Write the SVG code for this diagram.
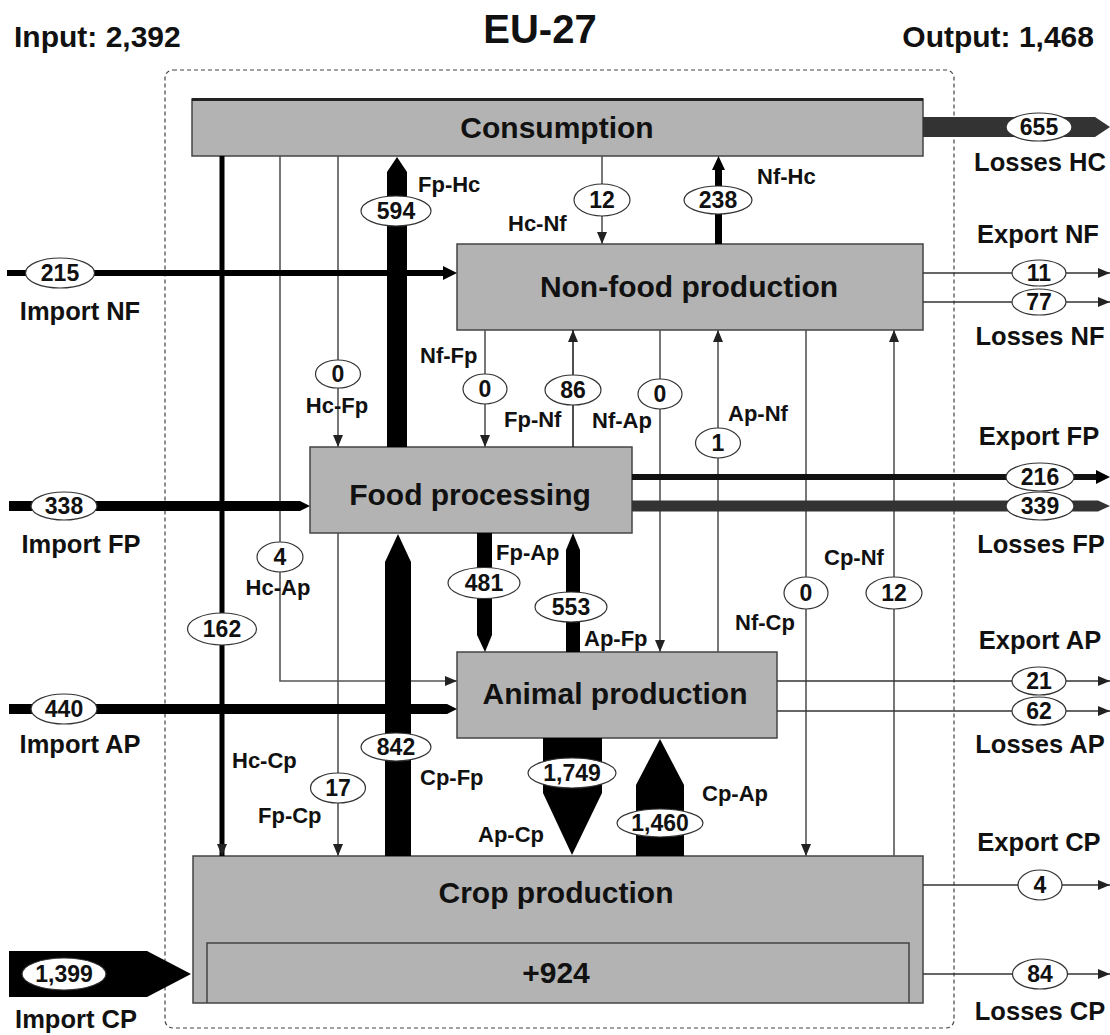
<svg xmlns="http://www.w3.org/2000/svg" width="1110" height="1035" viewBox="0 0 1110 1035">
<defs>
<marker id="ah" markerUnits="userSpaceOnUse" markerWidth="12" markerHeight="12" viewBox="0 0 12 12" refX="12" refY="6" orient="auto">
<path d="M0,1 L12,6 L0,11 Z" fill="#222"/>
</marker>
</defs>
<style>
.box{fill:#b3b3b3;stroke:#444;stroke-width:1.5}
.t{font-family:"Liberation Sans",Arial,sans-serif;font-weight:bold;fill:#111}
.big{font-size:30px;text-anchor:middle}
.side{font-size:25.5px;text-anchor:middle}
.cl{font-size:22px}
.mid{text-anchor:middle}
.num{font-size:23px;text-anchor:middle}
.ell{fill:#fff;stroke:#333;stroke-width:1.2}
.thin{stroke:#555;stroke-width:1.6;fill:none}
.blk{fill:#000}
.dg{fill:#333}
</style>
<rect width="1110" height="1035" fill="#fff"/>

<g id="titles">
<text class="t" x="14" y="47" font-size="30">Input: 2,392</text>
<text class="t" x="540" y="43" font-size="40" text-anchor="middle">EU-27</text>
<text class="t" x="1094" y="47" font-size="30" text-anchor="end">Output: 1,468</text>
</g>

<g id="boundary">
<rect x="165" y="70" width="789" height="958" rx="8" fill="none" stroke="#444" stroke-width="1.2" stroke-dasharray="4 3"/>
</g>

<g id="node-consumption">
<rect class="box" x="192" y="99" width="731" height="57"/>
<line x1="192" y1="99.5" x2="923" y2="99.5" stroke="#222" stroke-width="3"/>
<text class="t big" x="557" y="138">Consumption</text>
</g>
<g id="node-nonfood">
<rect class="box" x="457" y="244" width="466" height="86"/>
<text class="t big" x="689" y="297">Non-food production</text>
</g>
<g id="node-food">
<rect class="box" x="310" y="447" width="322" height="86"/>
<text class="t big" x="470" y="505">Food processing</text>
</g>
<g id="node-animal">
<rect class="box" x="457" y="652" width="320" height="86"/>
<text class="t big" x="615" y="704">Animal production</text>
</g>
<g id="node-crop">
<rect class="box" x="193" y="856" width="730" height="147"/>
<path d="M207,1003 V943 H909 V1003" fill="none" stroke="#444" stroke-width="1.5"/>
<text class="t big" x="556" y="903">Crop production</text>
<text class="t big" x="556" y="983">+924</text>
</g>

<g id="connectors">
<line x1="222" y1="156" x2="222" y2="856" stroke="#000" stroke-width="5" marker-end="url(#ah)"/>
<polyline class="thin" points="280,156 280,681 457,681" marker-end="url(#ah)"/>
<line class="thin" x1="338" y1="156" x2="338" y2="447" marker-end="url(#ah)"/>
<line class="thin" x1="338" y1="533" x2="338" y2="856" marker-end="url(#ah)"/>
<line class="thin" x1="602" y1="156" x2="602" y2="244" marker-end="url(#ah)"/>
<line class="thin" x1="485" y1="330" x2="485" y2="447" marker-end="url(#ah)"/>
<line class="thin" x1="573" y1="447" x2="573" y2="330" style="stroke:#222" marker-end="url(#ah)"/>
<line class="thin" x1="660" y1="330" x2="660" y2="652" marker-end="url(#ah)"/>
<line class="thin" x1="718" y1="652" x2="718" y2="330" marker-end="url(#ah)"/>
<line class="thin" x1="806" y1="330" x2="806" y2="856" marker-end="url(#ah)"/>
<line class="thin" x1="894" y1="856" x2="894" y2="330" marker-end="url(#ah)"/>

<polygon class="dg" points="923,117 1095,117 1110,127 1095,137 923,137"/>
<line class="thin" x1="923" y1="273" x2="1110" y2="273" style="stroke:#333" marker-end="url(#ah)"/>
<line class="thin" x1="923" y1="302" x2="1110" y2="302" style="stroke:#333" marker-end="url(#ah)"/>
<line x1="632" y1="477" x2="1098" y2="477" stroke="#111" stroke-width="6"/>
<polygon class="blk" points="1096,470 1110,477 1096,484"/>
<polygon class="dg" points="632,500.5 1098,500.5 1110,506 1098,511.5 632,511.5"/>
<line class="thin" x1="777" y1="681" x2="1110" y2="681" style="stroke:#333" marker-end="url(#ah)"/>
<line class="thin" x1="777" y1="711" x2="1110" y2="711" style="stroke:#333" marker-end="url(#ah)"/>
<line class="thin" x1="923" y1="885" x2="1110" y2="885" style="stroke:#333" marker-end="url(#ah)"/>
<line class="thin" x1="923" y1="974" x2="1110" y2="974" style="stroke:#333" marker-end="url(#ah)"/>

<line x1="7" y1="273" x2="445" y2="273" stroke="#000" stroke-width="6"/>
<polygon class="blk" points="443,266 457,273 443,280"/>
<polygon class="blk" points="9,501 300,501 310,506 300,511 9,511"/>
<polygon class="blk" points="9,704 447,704 457,709 447,714 9,714"/>
<polygon class="blk" points="9,951 147,951 191,974 147,997 9,997"/>

<polygon class="blk" points="387,447 387,172 397,157 407,172 407,447"/>
<polygon class="blk" points="385,856 385,562 398,534 411,562 411,856"/>
<polygon class="blk" points="477,533 477,635 485,652 492,635 492,533"/>
<polygon class="blk" points="566,652 566,550 573,533 580,550 580,652"/>
<polygon class="blk" points="543,738 543,793 572,855 602,793 602,738"/>
<polygon class="blk" points="636,856 636,785 660,739 684,785 684,856"/>
<polygon class="blk" points="715,244 715,170 712,170 718.5,156 725,170 722,170 722,244"/>

<g>
<ellipse class="ell" cx="1039" cy="127" rx="33" ry="14"/><text class="t num" x="1039" y="135">655</text>
<ellipse class="ell" cx="1039" cy="273" rx="27" ry="13"/><text class="t num" x="1039" y="281">11</text>
<ellipse class="ell" cx="1039" cy="302" rx="27" ry="13"/><text class="t num" x="1039" y="310">77</text>
<ellipse class="ell" cx="1040" cy="477" rx="34" ry="14"/><text class="t num" x="1040" y="485">216</text>
<ellipse class="ell" cx="1040" cy="506" rx="34" ry="14"/><text class="t num" x="1040" y="514">339</text>
<ellipse class="ell" cx="1039" cy="681" rx="27" ry="14"/><text class="t num" x="1039" y="689">21</text>
<ellipse class="ell" cx="1039" cy="711" rx="27" ry="14"/><text class="t num" x="1039" y="719">62</text>
<ellipse class="ell" cx="1040" cy="885" rx="22" ry="15"/><text class="t num" x="1040" y="893">4</text>
<ellipse class="ell" cx="1040" cy="974" rx="27.5" ry="15"/><text class="t num" x="1040" y="982">84</text>
<ellipse class="ell" cx="60" cy="273" rx="34.5" ry="15"/><text class="t num" x="60" y="281">215</text>
<ellipse class="ell" cx="64" cy="506" rx="33" ry="14"/><text class="t num" x="64" y="514">338</text>
<ellipse class="ell" cx="64" cy="709" rx="33" ry="15"/><text class="t num" x="64" y="717">440</text>
<ellipse class="ell" cx="64" cy="974" rx="42" ry="16"/><text class="t num" x="64" y="982">1,399</text>
<ellipse class="ell" cx="396" cy="211" rx="35" ry="15"/><text class="t num" x="396" y="219">594</text>
<ellipse class="ell" cx="602" cy="200" rx="28" ry="16"/><text class="t num" x="602" y="208">12</text>
<ellipse class="ell" cx="718" cy="200" rx="34" ry="14"/><text class="t num" x="718" y="208">238</text>
<ellipse class="ell" cx="338" cy="374" rx="22.5" ry="14"/><text class="t num" x="338" y="382">0</text>
<ellipse class="ell" cx="485" cy="389" rx="22" ry="15"/><text class="t num" x="485" y="397">0</text>
<ellipse class="ell" cx="573" cy="390" rx="28" ry="15"/><text class="t num" x="573" y="398">86</text>
<ellipse class="ell" cx="660" cy="394" rx="22" ry="15"/><text class="t num" x="660" y="402">0</text>
<ellipse class="ell" cx="718" cy="443" rx="22.5" ry="15"/><text class="t num" x="718" y="451">1</text>
<ellipse class="ell" cx="280" cy="557" rx="23" ry="15"/><text class="t num" x="280" y="565">4</text>
<ellipse class="ell" cx="222" cy="629" rx="34.5" ry="16"/><text class="t num" x="222" y="637">162</text>
<ellipse class="ell" cx="484" cy="583" rx="36" ry="15.5"/><text class="t num" x="484" y="591">481</text>
<ellipse class="ell" cx="571" cy="607" rx="36" ry="15"/><text class="t num" x="571" y="615">553</text>
<ellipse class="ell" cx="806" cy="593" rx="22" ry="16"/><text class="t num" x="806" y="601">0</text>
<ellipse class="ell" cx="894" cy="593" rx="28" ry="16"/><text class="t num" x="894" y="601">12</text>
<ellipse class="ell" cx="396" cy="747" rx="35" ry="14"/><text class="t num" x="396" y="755">842</text>
<ellipse class="ell" cx="338" cy="788" rx="27.5" ry="15"/><text class="t num" x="338" y="796">17</text>
<ellipse class="ell" cx="572" cy="773" rx="44" ry="15"/><text class="t num" x="572" y="781">1,749</text>
<ellipse class="ell" cx="660" cy="823" rx="43" ry="14"/><text class="t num" x="660" y="831">1,460</text>
</g>

<g>
<text class="t cl" x="418" y="192">Fp-Hc</text>
<text class="t cl" x="508" y="231">Hc-Nf</text>
<text class="t cl" x="757" y="184">Nf-Hc</text>
<text class="t cl mid" x="337" y="413">Hc-Fp</text>
<text class="t cl" x="420" y="363">Nf-Fp</text>
<text class="t cl" x="504" y="427">Fp-Nf</text>
<text class="t cl" x="592" y="428">Nf-Ap</text>
<text class="t cl" x="728" y="421">Ap-Nf</text>
<text class="t cl mid" x="278" y="595">Hc-Ap</text>
<text class="t cl" x="496" y="560">Fp-Ap</text>
<text class="t cl" x="584" y="646">Ap-Fp</text>
<text class="t cl" x="824" y="565">Cp-Nf</text>
<text class="t cl" x="735" y="630">Nf-Cp</text>
<text class="t cl" x="232" y="768">Hc-Cp</text>
<text class="t cl" x="420" y="785">Cp-Fp</text>
<text class="t cl" x="258" y="823">Fp-Cp</text>
<text class="t cl" x="478" y="842">Ap-Cp</text>
<text class="t cl" x="702" y="801">Cp-Ap</text>
</g>
</g>

<g id="side-labels">
<text class="t side" x="1040" y="171">Losses HC</text>
<text class="t side" x="1038" y="243">Export NF</text>
<text class="t side" x="1040" y="345">Losses NF</text>
<text class="t side" x="1039" y="445">Export FP</text>
<text class="t side" x="1041" y="553">Losses FP</text>
<text class="t side" x="1040" y="649">Export AP</text>
<text class="t side" x="1040" y="753">Losses AP</text>
<text class="t side" x="1039" y="851">Export CP</text>
<text class="t side" x="1040" y="1020">Losses CP</text>
<text class="t side" x="80" y="320">Import NF</text>
<text class="t side" x="81" y="553">Import FP</text>
<text class="t side" x="80" y="753">Import AP</text>
<text class="t side" x="76" y="1028">Import CP</text>
</g>
</svg>
